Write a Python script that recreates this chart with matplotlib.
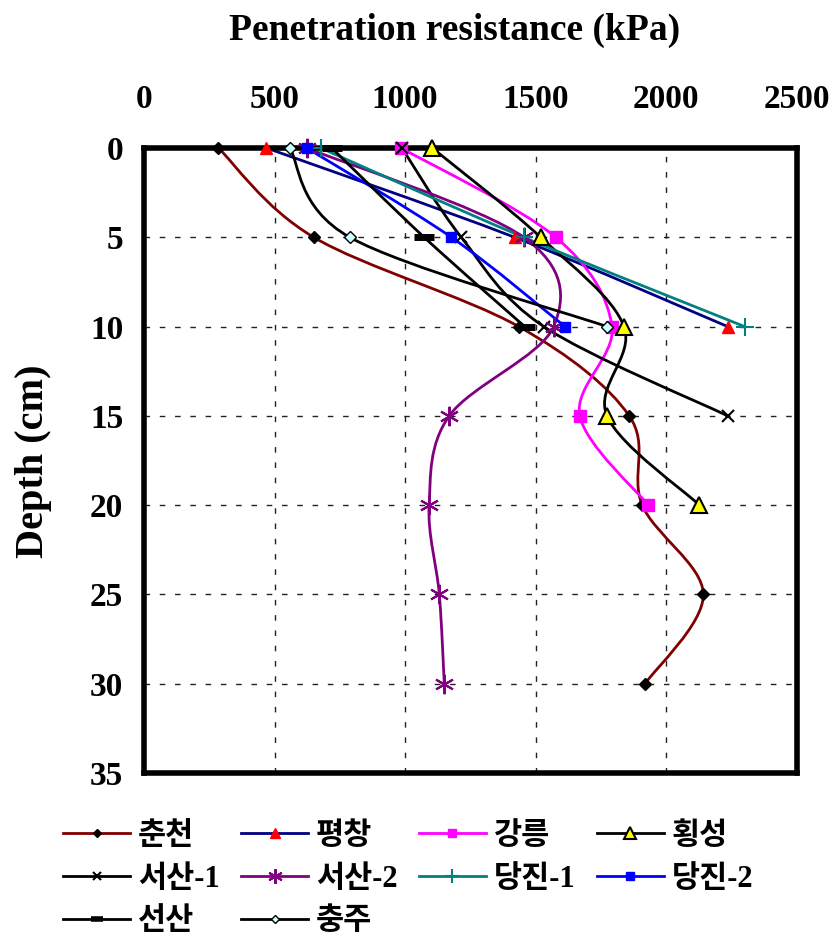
import numpy as np
import matplotlib.pyplot as plt
from matplotlib.path import Path
from matplotlib.patches import PathPatch
from matplotlib.lines import Line2D

# depths (cm)
depth7 = [0, 5, 10, 15, 20, 25, 30]

# penetration resistance (kPa) per site
chuncheon = [285, 650, 1435, 1858, 1908, 2142, 1919]
pyeongchang = [469, 1419, 2235]
gangneung = [985, 1577, 1792, 1669, 1931]
hoengseong = [1104, 1519, 1838, 1773, 2127]
seosan1 = [988, 1215, 1531, 2235]
seosan2 = [623, 1454, 1569, 1169, 1092, 1131, 1150]
dangjin1 = [677, 1454, 2300]
dangjin2 = [623, 1177, 1612]
seonsan = [719, 1073, 1458]
chungju = [558, 788, 1773]

labels = ['춘천', '평창', '강릉', '횡성', '서산-1', '서산-2', '당진-1', '당진-2', '선산', '충주']
series = [chuncheon, pyeongchang, gangneung, hoengseong, seosan1,
          seosan2, dangjin1, dangjin2, seonsan, chungju]

# line colour, marker, marker size, face, edge, edge width
styles = [
    ('#800000', 'D', 6, 'black', 'black', 1),
    ('#000080', '^', 9, 'red', 'red', 1),
    ('#FF00FF', 's', 8, '#FF00FF', '#FF00FF', 1),
    ('black', '^', 11, 'yellow', 'black', 1.5),
    ('black', 'x', 8, 'black', 'black', 1.5),
    ('#800080', (6, 2, 0), 14, '#800080', '#800080', 1.5),
    ('#008080', '+', 13, '#008080', '#008080', 1.5),
    ('#0000FF', 's', 7, '#0000FF', '#0000FF', 1),
    ('black', '_', 14, 'black', 'black', 5),
    ('black', 'D', 6, '#CCFFFF', 'black', 1),
]

fnt = ['Liberation Serif', 'Noto Sans CJK KR']


def smooth_path(xs, ys):
    # Catmull-Rom style bezier through the data points (like Excel smoothed lines)
    pts = np.column_stack([xs, ys]).astype(float)
    n = len(pts)
    verts = [pts[0]]
    codes = [Path.MOVETO]
    for i in range(n - 1):
        p0 = pts[i - 1] if i > 0 else pts[i]
        p1 = pts[i]
        p2 = pts[i + 1]
        p3 = pts[i + 2] if i + 2 < n else pts[i + 1]
        c1 = p1 + (p2 - p0) / 6.0
        c2 = p2 - (p3 - p1) / 6.0
        verts += [c1, c2, p2]
        codes += [Path.CURVE4] * 3
    return Path(verts, codes)


fig = plt.figure(figsize=(8.37, 9.39), dpi=100)
ax = fig.add_axes([0.172, 0.1768, 0.78, 0.6656])

for vals, (lc, mk, ms, fc, ec, mew) in zip(series, styles):
    d = depth7[:len(vals)]
    ax.add_patch(PathPatch(smooth_path(vals, d), fill=False, edgecolor=lc, lw=2, zorder=3))
for vals, (lc, mk, ms, fc, ec, mew) in zip(series, styles):
    d = depth7[:len(vals)]
    ax.plot(vals, d, linestyle='none', marker=mk, ms=ms, mfc=fc, mec=ec, mew=mew,
            zorder=5, clip_on=False)

ax.set_xlim(0, 2500)
ax.set_ylim(35, 0)
ax.set_xticks(np.arange(0, 2501, 500))
ax.set_yticks(np.arange(0, 36, 5))
ax.xaxis.tick_top()
ax.tick_params(length=0)
ax.tick_params(axis='x', pad=24)
ax.tick_params(axis='y', pad=15)
for t in ax.get_xticklabels() + ax.get_yticklabels():
    t.set_fontfamily('Liberation Serif')
    t.set_fontweight('bold')
    t.set_fontsize(24)
ax.grid(True, color='#222222', lw=1, linestyle=(0, (4, 7)))
for s in ax.spines.values():
    s.set_linewidth(4)
    s.set_zorder(4)

fig.text(455 / 837, 1 - 30 / 939, 'Penetration resistance (kPa)', family='Liberation Serif',
         weight='bold', fontsize=27, ha='center', va='center')
fig.text(34 / 837, 1 - 461 / 939, 'Depth (cm)', family='Liberation Serif', weight='bold',
         fontsize=29, rotation=90, ha='center', va='center')

handles = []
for (lc, mk, ms, fc, ec, mew), lab in zip(styles, labels):
    hms = ms * 0.75 if mk != '_' else 9
    handles.append(Line2D([], [], color=lc, lw=2, marker=mk, ms=hms, mfc=fc,
                          mec=ec, mew=mew if mk != '_' else 4, label=lab))
order = [0, 4, 8, 1, 5, 9, 2, 6, 3, 7]
leg = fig.legend([handles[i] for i in order], [labels[i] for i in order],
                 ncol=4, loc='upper left', bbox_to_anchor=(63 / 837, 1 - 822 / 939),
                 frameon=False, handlelength=2.2, handletextpad=0.25,
                 columnspacing=0.7, labelspacing=0.45, borderpad=0, borderaxespad=0,
                 prop={'family': fnt, 'weight': 'bold', 'size': 22})

fig.savefig('out.png', dpi=100)
